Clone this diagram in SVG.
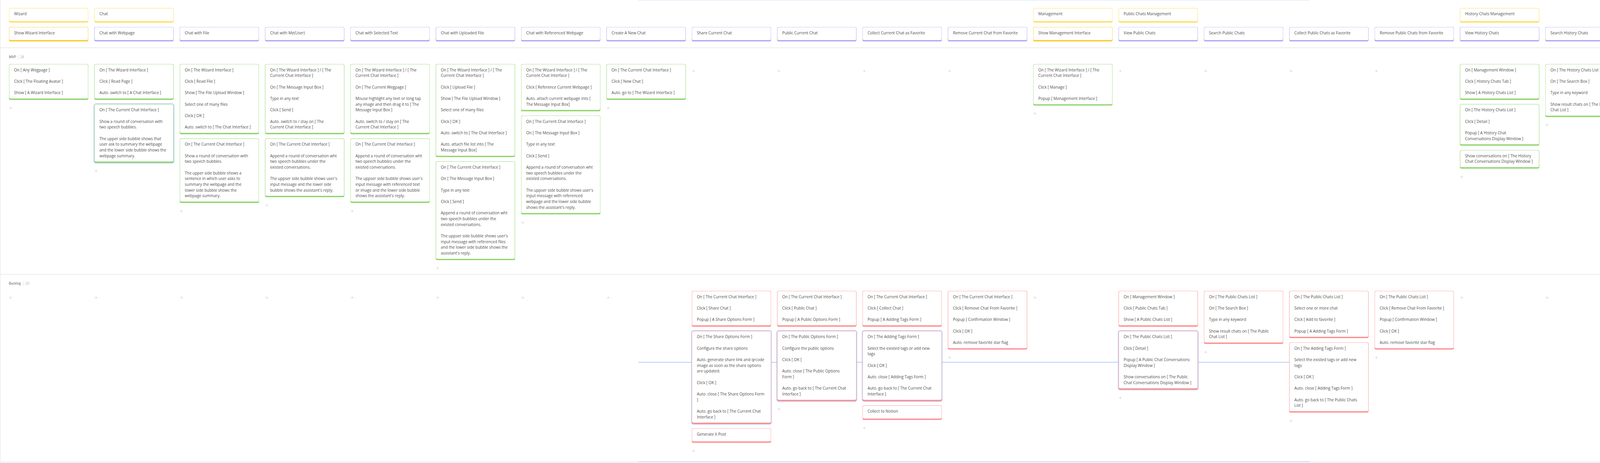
<svg xmlns="http://www.w3.org/2000/svg" xmlns:xlink="http://www.w3.org/1999/xlink" width="6079" height="1186" viewBox="0 0 6079 1186">
<style>
text{font-family:"Open Sans","Noto Sans","Liberation Sans",sans-serif;font-size:10px;fill:#4f4f4f}
.bf{fill:#fff;stroke-width:1}
.g .bb{fill:#86d160}.g .bf{stroke:#b2e59a}
.b .bb{fill:#ab9ff6}.b .bf{stroke:#cfc7fc}
.y .bb{fill:#ffdc55}.y .bf{stroke:#ffe88f}
.ys .bb{fill:#ffc320}.ys .bf{stroke:#ffd860}
.r .bb{fill:#ff8585}.r .bf{stroke:#ffb2b2}
.ol{fill:none;stroke:#8fb3f3;stroke-width:1}
.lbl{font-size:8.6px;fill:#5a5a5a}
.cnt{font-size:8.6px;fill:#b0b0b0}
.pl{stroke:#cfcfcf;stroke-width:1;fill:none}
</style>
<defs>
<path id="plus" class="pl" d="M-3.5 0H3.5M0 -3.5V3.5"/>
</defs>
<rect width="6079" height="1186" fill="#fff"/>
<g id="lanes">
<rect x="0" y="0" width="2" height="1186" fill="#f1f1f1"/>
<rect x="2" y="121" width="6077" height="2.5" fill="#efefef"/>
<rect x="2" y="701.5" width="6077" height="2.5" fill="#efefef"/>
<rect x="0" y="1182" width="6079" height="4" fill="#eef1f6"/>
<line x1="1634" y1="0.5" x2="3352" y2="0.5" stroke="#d3e1f8" stroke-width="1"/>
<line x1="1634" y1="928" x2="3352" y2="928" stroke="#6f9ff0" stroke-width="1"/>
<line x1="1634" y1="1182" x2="3352" y2="1182" stroke="#a9c6f5" stroke-width="1"/>
<text class="lbl" x="23" y="148.5">MVP</text>
<line x1="47" y1="140" x2="47" y2="152" stroke="#dddddd"/>
<text class="cnt" x="51.5" y="148.5">28</text>
<text class="lbl" x="22.5" y="729.2">Backlog</text>
<line x1="60.7" y1="720" x2="60.7" y2="732" stroke="#dddddd"/>
<text class="cnt" x="65" y="729.2">20</text>
</g>

<g id="activities">
<g id="a-wizard" class="y" transform="translate(23,20.7)"><rect class="bb" width="203" height="37" rx="4"/><rect class="bf" x="0.5" y="0.5" width="202" height="33.5" rx="3.5"/><text x="13" y="18.7">Wizard</text></g>
<g id="a-chat" class="y" transform="translate(241.5,20.7)"><rect class="bb" width="203" height="37" rx="4"/><rect class="bf" x="0.5" y="0.5" width="202" height="33.5" rx="3.5"/><text x="13" y="18.7">Chat</text></g>
<g id="a-management" class="y" transform="translate(2645,20.7)"><rect class="bb" width="203" height="37" rx="4"/><rect class="bf" x="0.5" y="0.5" width="202" height="33.5" rx="3.5"/><text x="13" y="18.7">Management</text></g>
<g id="a-public" class="y" transform="translate(2863.5,20.7)"><rect class="bb" width="203" height="37" rx="4"/><rect class="bf" x="0.5" y="0.5" width="202" height="33.5" rx="3.5"/><text x="13" y="18.7">Public Chats Management</text></g>
<g id="a-history" class="y" transform="translate(3737.5,20.7)"><rect class="bb" width="203" height="37" rx="4"/><rect class="bf" x="0.5" y="0.5" width="202" height="33.5" rx="3.5"/><text x="13" y="18.7">History Chats Management</text></g>
<g id="a-collected" class="y" transform="translate(5048.5,20.7)"><rect class="bb" width="203" height="37" rx="4"/><rect class="bf" x="0.5" y="0.5" width="202" height="33.5" rx="3.5"/><text x="13" y="18.7">Collected Chats Management</text></g>
<g id="a-config" class="y" transform="translate(5704,20.7)"><rect class="bb" width="203" height="37" rx="4"/><rect class="bf" x="0.5" y="0.5" width="202" height="33.5" rx="3.5"/><text x="13" y="18.7">Configuration</text></g>
</g>

<g id="tasks">
<g id="t0" class="ys" transform="translate(23,69)"><rect class="bb" width="203" height="37" rx="4"/><rect class="bf" x="0.5" y="0.5" width="202" height="33.5" rx="3.5"/><text x="13" y="18.7">Show Wizard Interface</text></g>
<g id="t1" class="b" transform="translate(241.5,69)"><rect class="bb" width="203" height="37" rx="4"/><rect class="bf" x="0.5" y="0.5" width="202" height="33.5" rx="3.5"/><text x="13" y="18.7">Chat with Webpage</text></g>
<g id="t2" class="b" transform="translate(460,69)"><rect class="bb" width="203" height="37" rx="4"/><rect class="bf" x="0.5" y="0.5" width="202" height="33.5" rx="3.5"/><text x="13" y="18.7">Chat with File</text></g>
<g id="t3" class="b" transform="translate(678.5,69)"><rect class="bb" width="203" height="37" rx="4"/><rect class="bf" x="0.5" y="0.5" width="202" height="33.5" rx="3.5"/><text x="13" y="18.7">Chat with Me(User)</text></g>
<g id="t4" class="b" transform="translate(897,69)"><rect class="bb" width="203" height="37" rx="4"/><rect class="bf" x="0.5" y="0.5" width="202" height="33.5" rx="3.5"/><text x="13" y="18.7">Chat with Selected Text</text></g>
<g id="t5" class="b" transform="translate(1115.5,69)"><rect class="bb" width="203" height="37" rx="4"/><rect class="bf" x="0.5" y="0.5" width="202" height="33.5" rx="3.5"/><text x="13" y="18.7">Chat with Uploaded File</text></g>
<g id="t6" class="b" transform="translate(1334,69)"><rect class="bb" width="203" height="37" rx="4"/><rect class="bf" x="0.5" y="0.5" width="202" height="33.5" rx="3.5"/><text x="13" y="18.7">Chat with Referenced Webpage</text></g>
<g id="t7" class="b" transform="translate(1552.5,69)"><rect class="bb" width="203" height="37" rx="4"/><rect class="bf" x="0.5" y="0.5" width="202" height="33.5" rx="3.5"/><text x="13" y="18.7">Create A New Chat</text></g>
<g id="t8" class="b" transform="translate(1771,69)"><rect class="bb" width="203" height="37" rx="4"/><rect class="bf" x="0.5" y="0.5" width="202" height="33.5" rx="3.5"/><text x="13" y="18.7">Share Current Chat</text></g>
<g id="t9" class="b" transform="translate(1989.5,69)"><rect class="bb" width="203" height="37" rx="4"/><rect class="bf" x="0.5" y="0.5" width="202" height="33.5" rx="3.5"/><text x="13" y="18.7">Public Current Chat</text></g>
<g id="t10" class="b" transform="translate(2208,69)"><rect class="bb" width="203" height="37" rx="4"/><rect class="bf" x="0.5" y="0.5" width="202" height="33.5" rx="3.5"/><text x="13" y="18.7">Collect Current Chat as Favorite</text></g>
<g id="t11" class="b" transform="translate(2426.5,69)"><rect class="bb" width="203" height="37" rx="4"/><rect class="bf" x="0.5" y="0.5" width="202" height="33.5" rx="3.5"/><text x="13" y="18.7">Remove Current Chat from Favorite</text></g>
<g id="t12" class="ys" transform="translate(2645,69)"><rect class="bb" width="203" height="37" rx="4"/><rect class="bf" x="0.5" y="0.5" width="202" height="33.5" rx="3.5"/><text x="13" y="18.7">Show Management Interface</text></g>
<g id="t13" class="b" transform="translate(2863.5,69)"><rect class="bb" width="203" height="37" rx="4"/><rect class="bf" x="0.5" y="0.5" width="202" height="33.5" rx="3.5"/><text x="13" y="18.7">View Public Chats</text></g>
<g id="t14" class="b" transform="translate(3082,69)"><rect class="bb" width="203" height="37" rx="4"/><rect class="bf" x="0.5" y="0.5" width="202" height="33.5" rx="3.5"/><text x="13" y="18.7">Search Public Chats</text></g>
<g id="t15" class="b" transform="translate(3300.5,69)"><rect class="bb" width="203" height="37" rx="4"/><rect class="bf" x="0.5" y="0.5" width="202" height="33.5" rx="3.5"/><text x="13" y="18.7">Collect Public Chats as Favorite</text></g>
<g id="t16" class="b" transform="translate(3519,69)"><rect class="bb" width="203" height="37" rx="4"/><rect class="bf" x="0.5" y="0.5" width="202" height="33.5" rx="3.5"/><text x="13" y="18.7">Remove Public Chats from Favorite</text></g>
<g id="t17" class="b" transform="translate(3737.5,69)"><rect class="bb" width="203" height="37" rx="4"/><rect class="bf" x="0.5" y="0.5" width="202" height="33.5" rx="3.5"/><text x="13" y="18.7">View History Chats</text></g>
<g id="t18" class="b" transform="translate(3956,69)"><rect class="bb" width="203" height="37" rx="4"/><rect class="bf" x="0.5" y="0.5" width="202" height="33.5" rx="3.5"/><text x="13" y="18.7">Search History Chats</text></g>
<g id="t19" class="b" transform="translate(4174.5,69)"><rect class="bb" width="203" height="37" rx="4"/><rect class="bf" x="0.5" y="0.5" width="202" height="33.5" rx="3.5"/><text x="13" y="18.7">Remove History Chats</text></g>
<g id="t20" class="b" transform="translate(4393,69)"><rect class="bb" width="203" height="37" rx="4"/><rect class="bf" x="0.5" y="0.5" width="202" height="33.5" rx="3.5"/><text x="13" y="18.7">Collect History Chat as Favorite</text></g>
<g id="t21" class="b" transform="translate(4611.5,69)"><rect class="bb" width="203" height="37" rx="4"/><rect class="bf" x="0.5" y="0.5" width="202" height="33.5" rx="3.5"/><text x="13" y="18.7">Remove History Chat from Favorite</text></g>
<g id="t22" class="b" transform="translate(4830,69)"><rect class="bb" width="203" height="37" rx="4"/><rect class="bf" x="0.5" y="0.5" width="202" height="33.5" rx="3.5"/><text x="13" y="18.7">Continue Chat from History Chat</text></g>
<g id="t23" class="b" transform="translate(5048.5,69)"><rect class="bb" width="203" height="37" rx="4"/><rect class="bf" x="0.5" y="0.5" width="202" height="33.5" rx="3.5"/><text x="13" y="18.7">View Collected Chats</text></g>
<g id="t24" class="b" transform="translate(5267,69)"><rect class="bb" width="203" height="37" rx="4"/><rect class="bf" x="0.5" y="0.5" width="202" height="33.5" rx="3.5"/><text x="13" y="18.7">Search Collected Chats</text></g>
<g id="t25" class="b" transform="translate(5485.5,69)"><rect class="bb" width="203" height="37" rx="4"/><rect class="bf" x="0.5" y="0.5" width="202" height="33.5" rx="3.5"/><text x="13" y="18.7">Remove Collected Chats</text></g>
<g id="t26" class="b" transform="translate(5704,69)"><rect class="bb" width="203" height="37" rx="4"/><rect class="bf" x="0.5" y="0.5" width="202" height="33.5" rx="3.5"/><text x="13" y="18.7">View Configuration</text></g>
<g id="t27" class="b" transform="translate(5922.5,69)"><rect class="bb" width="203" height="37" rx="4"/><rect class="bf" x="0.5" y="0.5" width="202" height="33.5" rx="3.5"/><text x="13" y="18.7">Edit Configuration</text></g>
</g>

<g id="mvp">
<g id="m0a" class="g" transform="translate(23,164)"><rect class="bb" width="203" height="91.7" rx="4"/><rect class="bf" x="0.5" y="0.5" width="202" height="88.2" rx="3.5"/><text><tspan x="13" y="18.7">On [ Any Wegpage ]</tspan><tspan x="13" y="48">Click [ The Floating Avatar ]</tspan><tspan x="13" y="77.4">Show [ A Wizard Interface ]</tspan></text></g>
<g id="m1a" class="g" transform="translate(241.5,164)"><rect class="bb" width="203" height="91.7" rx="4"/><rect class="bf" x="0.5" y="0.5" width="202" height="88.2" rx="3.5"/><text><tspan x="13" y="18.7">On [ The Wizard Interface ]</tspan><tspan x="13" y="48">Click [ Read Page ]</tspan><tspan x="13" y="77.4">Auto. switch to [ A Chat Interface ]</tspan></text></g>
<g id="m1b" class="g" transform="translate(241.5,266.7)"><rect class="bb" width="203" height="150.3" rx="4"/><rect class="bf" x="0.5" y="0.5" width="202" height="146.8" rx="3.5"/><rect class="ol" x="-1" y="-1" width="205" height="152.3" rx="4.5"/><text><tspan x="13" y="18.7">On [ The Current Chat Interface ]</tspan><tspan x="13" y="48">Show a round of conversation with</tspan><tspan x="13" y="62.7">two speech bubbles.</tspan><tspan x="13" y="92.1">The upper side bubble shows that</tspan><tspan x="13" y="106.7">user ask to summary the webpage</tspan><tspan x="13" y="121.4">and the lower side bubble shows the</tspan><tspan x="13" y="136.1">webpage summary.</tspan></text></g>
<g id="m2a" class="g" transform="translate(460,164)"><rect class="bb" width="203" height="179.7" rx="4"/><rect class="bf" x="0.5" y="0.5" width="202" height="176.2" rx="3.5"/><text><tspan x="13" y="18.7">On [ The Wizard Interface ]</tspan><tspan x="13" y="48">Click [ Read File ]</tspan><tspan x="13" y="77.4">Show [ The File Upload Window ]</tspan><tspan x="13" y="106.7">Select one of many files</tspan><tspan x="13" y="136.1">Click [ OK ]</tspan><tspan x="13" y="165.4">Auto. switch to [ The Chat Interface ]</tspan></text></g>
<g id="m2b" class="g" transform="translate(460,354.7)"><rect class="bb" width="203" height="165" rx="4"/><rect class="bf" x="0.5" y="0.5" width="202" height="161.5" rx="3.5"/><text><tspan x="13" y="18.7">On [ The Current Chat Interface ]</tspan><tspan x="13" y="48">Show a round of conversation with</tspan><tspan x="13" y="62.7">two speech bubbles.</tspan><tspan x="13" y="92.1">The upper side bubble shows a</tspan><tspan x="13" y="106.7">sentence in which user asks to</tspan><tspan x="13" y="121.4">summary the webpage and the</tspan><tspan x="13" y="136.1">lower side bubble shows the</tspan><tspan x="13" y="150.7">webpage summary.</tspan></text></g>
<g id="m3a" class="g" transform="translate(678.5,164)"><rect class="bb" width="203" height="179.7" rx="4"/><rect class="bf" x="0.5" y="0.5" width="202" height="176.2" rx="3.5"/><text><tspan x="13" y="18.7">On [ The Wizard Interface ] / [ The</tspan><tspan x="13" y="33.4">Current Chat Interface ]</tspan><tspan x="13" y="62.7">On [ The Message Input Box ]</tspan><tspan x="13" y="92.1">Type in any text</tspan><tspan x="13" y="121.4">Click [ Send ]</tspan><tspan x="13" y="150.7">Auto. switch to / stay on [ The</tspan><tspan x="13" y="165.4">Current Chat Interface ]</tspan></text></g>
<g id="m3b" class="g" transform="translate(678.5,354.7)"><rect class="bb" width="203" height="150.3" rx="4"/><rect class="bf" x="0.5" y="0.5" width="202" height="146.8" rx="3.5"/><text><tspan x="13" y="18.7">On [ The Current Chat Interface ]</tspan><tspan x="13" y="48">Append a round of conversation wht</tspan><tspan x="13" y="62.7">two speech bubbles under the</tspan><tspan x="13" y="77.4">existed conversations.</tspan><tspan x="13" y="106.7">The uppser side bubble shows user's</tspan><tspan x="13" y="121.4">input message and the lower side</tspan><tspan x="13" y="136.1">bubble shows the assistant's reply.</tspan></text></g>
<g id="m4a" class="g" transform="translate(897,164)"><rect class="bb" width="203" height="179.7" rx="4"/><rect class="bf" x="0.5" y="0.5" width="202" height="176.2" rx="3.5"/><text><tspan x="13" y="18.7">On [ The Wizard Interface ] / [ The</tspan><tspan x="13" y="33.4">Current Chat Interface ]</tspan><tspan x="13" y="62.7">On [ The Current Wegpage ]</tspan><tspan x="13" y="92.1">Mouse highlight any text or long tap</tspan><tspan x="13" y="106.7">any image and then drag it to [ The</tspan><tspan x="13" y="121.4">Message Input Box ]</tspan><tspan x="13" y="150.7">Auto. switch to / stay on [ The</tspan><tspan x="13" y="165.4">Current Chat Interface ]</tspan></text></g>
<g id="m4b" class="g" transform="translate(897,354.7)"><rect class="bb" width="203" height="165" rx="4"/><rect class="bf" x="0.5" y="0.5" width="202" height="161.5" rx="3.5"/><text><tspan x="13" y="18.7">On [ The Current Chat Interface ]</tspan><tspan x="13" y="48">Append a round of conversation wht</tspan><tspan x="13" y="62.7">two speech bubbles under the</tspan><tspan x="13" y="77.4">existed conversations.</tspan><tspan x="13" y="106.7">The uppser side bubble shows user's</tspan><tspan x="13" y="121.4">input message with referenced text</tspan><tspan x="13" y="136.1">or image and the lower side bubble</tspan><tspan x="13" y="150.7">shows the assistant's reply.</tspan></text></g>
<g id="m5a" class="g" transform="translate(1115.5,164)"><rect class="bb" width="203" height="238.3" rx="4"/><rect class="bf" x="0.5" y="0.5" width="202" height="234.8" rx="3.5"/><text><tspan x="13" y="18.7">On [ The Wizard Interface ] / [ The</tspan><tspan x="13" y="33.4">Current Chat Interface ]</tspan><tspan x="13" y="62.7">Click [ Upload File ]</tspan><tspan x="13" y="92.1">Show [ The File Upload Window ]</tspan><tspan x="13" y="121.4">Select one of many files</tspan><tspan x="13" y="150.7">Click [ OK ]</tspan><tspan x="13" y="180.1">Auto. switch to [ The Chat Interface ]</tspan><tspan x="13" y="209.4">Auto. attach file list into [ The</tspan><tspan x="13" y="224.1">Message Input Box]</tspan></text></g>
<g id="m5b" class="g" transform="translate(1115.5,413.3)"><rect class="bb" width="203" height="253" rx="4"/><rect class="bf" x="0.5" y="0.5" width="202" height="249.5" rx="3.5"/><text><tspan x="13" y="18.7">On [ The Current Chat Interface ]</tspan><tspan x="13" y="48">On [ The Message Input Box ]</tspan><tspan x="13" y="77.4">Type in any text</tspan><tspan x="13" y="106.7">Click [ Send ]</tspan><tspan x="13" y="136.1">Append a round of conversation wht</tspan><tspan x="13" y="150.7">two speech bubbles under the</tspan><tspan x="13" y="165.4">existed conversations.</tspan><tspan x="13" y="194.7">The uppser side bubble shows user's</tspan><tspan x="13" y="209.4">input message with referenced files</tspan><tspan x="13" y="224.1">and the lower side bubble shows the</tspan><tspan x="13" y="238.7">assistant's reply.</tspan></text></g>
<g id="m6a" class="g" transform="translate(1334,164)"><rect class="bb" width="203" height="121" rx="4"/><rect class="bf" x="0.5" y="0.5" width="202" height="117.5" rx="3.5"/><text><tspan x="13" y="18.7">On [ The Wizard Interface ] / [ The</tspan><tspan x="13" y="33.4">Current Chat Interface ]</tspan><tspan x="13" y="62.7">Click [ Reference Current Webpage ]</tspan><tspan x="13" y="92.1">Auto. attach current webpage into [</tspan><tspan x="13" y="106.7">The Message Input Box]</tspan></text></g>
<g id="m6b" class="g" transform="translate(1334,296)"><rect class="bb" width="203" height="253" rx="4"/><rect class="bf" x="0.5" y="0.5" width="202" height="249.5" rx="3.5"/><text><tspan x="13" y="18.7">On [ The Current Chat Interface ]</tspan><tspan x="13" y="48">On [ The Message Input Box ]</tspan><tspan x="13" y="77.4">Type in any text</tspan><tspan x="13" y="106.7">Click [ Send ]</tspan><tspan x="13" y="136.1">Append a round of conversation wht</tspan><tspan x="13" y="150.7">two speech bubbles under the</tspan><tspan x="13" y="165.4">existed conversations.</tspan><tspan x="13" y="194.7">The uppser side bubble shows user's</tspan><tspan x="13" y="209.4">input message with referenced</tspan><tspan x="13" y="224.1">webpage and the lower side bubble</tspan><tspan x="13" y="238.7">shows the assistant's reply.</tspan></text></g>
<g id="m7a" class="g" transform="translate(1552.5,164)"><rect class="bb" width="203" height="91.7" rx="4"/><rect class="bf" x="0.5" y="0.5" width="202" height="88.2" rx="3.5"/><text><tspan x="13" y="18.7">On [ The Current Chat Interface ]</tspan><tspan x="13" y="48">Click [ New Chat ]</tspan><tspan x="13" y="77.4">Auto. go to [ The Wizard Interface ]</tspan></text></g>
<g id="m12a" class="g" transform="translate(2645,164)"><rect class="bb" width="203" height="106.3" rx="4"/><rect class="bf" x="0.5" y="0.5" width="202" height="102.8" rx="3.5"/><text><tspan x="13" y="18.7">On [ The Wizard Interface ] / [ The</tspan><tspan x="13" y="33.4">Current Chat Interface ]</tspan><tspan x="13" y="62.7">Click [ Manage ]</tspan><tspan x="13" y="92.1">Popup [ Management Interface ]</tspan></text></g>
<g id="m17a" class="g" transform="translate(3737.5,164)"><rect class="bb" width="203" height="91.7" rx="4"/><rect class="bf" x="0.5" y="0.5" width="202" height="88.2" rx="3.5"/><text><tspan x="13" y="18.7">On [ Management Window ]</tspan><tspan x="13" y="48">Click [ History Chats Tab ]</tspan><tspan x="13" y="77.4">Show [ A History Chats List ]</tspan></text></g>
<g id="m17b" class="g" transform="translate(3737.5,266.7)"><rect class="bb" width="203" height="106.3" rx="4"/><rect class="bf" x="0.5" y="0.5" width="202" height="102.8" rx="3.5"/><text><tspan x="13" y="18.7">On [ The History Chats List ]</tspan><tspan x="13" y="48">Click [ Detail ]</tspan><tspan x="13" y="77.4">Popup [ A History Chat</tspan><tspan x="13" y="92.1">Conversations Display Window ]</tspan></text></g>
<g id="m17c" class="g" transform="translate(3737.5,384)"><rect class="bb" width="203" height="47.7" rx="4"/><rect class="bf" x="0.5" y="0.5" width="202" height="44.2" rx="3.5"/><text><tspan x="13" y="18.7">Show conversations on [ The History</tspan><tspan x="13" y="33.4">Chat Conversations Display Window ]</tspan></text></g>
<g id="m18a" class="g" transform="translate(3956,164)"><rect class="bb" width="203" height="135.7" rx="4"/><rect class="bf" x="0.5" y="0.5" width="202" height="132.2" rx="3.5"/><text><tspan x="13" y="18.7">On [ The History Chats List ]</tspan><tspan x="13" y="48">On [ The Search Box ]</tspan><tspan x="13" y="77.4">Type in any keyword</tspan><tspan x="13" y="106.7">Show result chats on [ The History</tspan><tspan x="13" y="121.4">Chat List ]</tspan></text></g>
<g id="m19a" class="g" transform="translate(4174.5,164)"><rect class="bb" width="203" height="150.3" rx="4"/><rect class="bf" x="0.5" y="0.5" width="202" height="146.8" rx="3.5"/><text><tspan x="13" y="18.7">On [ The History Chats List ]</tspan><tspan x="13" y="48">Click [ Remove Chat From Favorite ]</tspan><tspan x="13" y="77.4">Popup [ Confirmation Window ]</tspan><tspan x="13" y="106.7">Click [ OK ]</tspan><tspan x="13" y="136.1">Auto. remove favorite star flag</tspan></text></g>
<g id="m20a" class="g" transform="translate(4393,164)"><rect class="bb" width="203" height="121" rx="4"/><rect class="bf" x="0.5" y="0.5" width="202" height="117.5" rx="3.5"/><text><tspan x="13" y="18.7">On [ The History Chats List ]</tspan><tspan x="13" y="48">Select one or more chat</tspan><tspan x="13" y="77.4">Click [ Add to favorite ]</tspan><tspan x="13" y="106.7">Popup [ A Adding Tags Form ]</tspan></text></g>
<g id="m20b" class="g" transform="translate(4393,296)"><rect class="bb" width="203" height="179.7" rx="4"/><rect class="bf" x="0.5" y="0.5" width="202" height="176.2" rx="3.5"/><text><tspan x="13" y="18.7">On [ The Adding Tags Form ]</tspan><tspan x="13" y="48">Select the existed tags or add new</tspan><tspan x="13" y="62.7">tags</tspan><tspan x="13" y="92.1">Click [ OK ]</tspan><tspan x="13" y="121.4">Auto. close [ Adding Tags Form ]</tspan><tspan x="13" y="150.7">Auto. go back to [ The History Chats</tspan><tspan x="13" y="165.4">List ]</tspan></text></g>
<g id="m21a" class="g" transform="translate(4611.5,164)"><rect class="bb" width="203" height="150.3" rx="4"/><rect class="bf" x="0.5" y="0.5" width="202" height="146.8" rx="3.5"/><text><tspan x="13" y="18.7">On [ The History Chats List ]</tspan><tspan x="13" y="48">Click [ Remove Chat From Favorite ]</tspan><tspan x="13" y="77.4">Popup [ Confirmation Window ]</tspan><tspan x="13" y="106.7">Click [ OK ]</tspan><tspan x="13" y="136.1">Auto. remove favorite star flag</tspan></text></g>
<g id="m22a" class="g" transform="translate(4830,164)"><rect class="bb" width="203" height="135.7" rx="4"/><rect class="bf" x="0.5" y="0.5" width="202" height="132.2" rx="3.5"/><text><tspan x="13" y="18.7">On [ The History Chats List ]</tspan><tspan x="13" y="48">Select a history chat</tspan><tspan x="13" y="77.4">Click [ Continue Chat ]</tspan><tspan x="13" y="106.7">Auto. go to [ The Current Chat</tspan><tspan x="13" y="121.4">Interface ]</tspan></text></g>
<g id="m22b" class="g" transform="translate(4830,310.7)"><rect class="bb" width="203" height="62.3" rx="4"/><rect class="bf" x="0.5" y="0.5" width="202" height="58.8" rx="3.5"/><text><tspan x="13" y="18.7">Show the conversation that to be</tspan><tspan x="13" y="33.4">continued on [ The Current Chat</tspan><tspan x="13" y="48">Interface ]</tspan></text></g>
<g id="m22c" class="g" transform="translate(4830,384)"><rect class="bb" width="203" height="238.3" rx="4"/><rect class="bf" x="0.5" y="0.5" width="202" height="234.8" rx="3.5"/><text><tspan x="13" y="18.7">On [ The Current Chat Interface ]</tspan><tspan x="13" y="48">On [ The Message Input Box ]</tspan><tspan x="13" y="77.4">Type in message</tspan><tspan x="13" y="106.7">Click [ Send ]</tspan><tspan x="13" y="136.1">Append a round of conversation wht</tspan><tspan x="13" y="150.7">two speech bubbles under the</tspan><tspan x="13" y="165.4">existed conversations.</tspan><tspan x="13" y="194.7">The uppser side bubble shows user's</tspan><tspan x="13" y="209.4">input message and the lower side</tspan><tspan x="13" y="224.1">bubble shows the assistant's reply.</tspan></text></g>
<g id="m26a" class="g" transform="translate(5704,164)"><rect class="bb" width="203" height="91.7" rx="4"/><rect class="bf" x="0.5" y="0.5" width="202" height="88.2" rx="3.5"/><text><tspan x="13" y="18.7">On [ Management Window ]</tspan><tspan x="13" y="48">Click [ Configuration Tab ]</tspan><tspan x="13" y="77.4">Show [ A Configuration Form ]</tspan></text></g>
<g id="m27a" class="g" transform="translate(5922.5,164)"><rect class="bb" width="203" height="121" rx="4"/><rect class="bf" x="0.5" y="0.5" width="202" height="117.5" rx="3.5"/><text><tspan x="13" y="18.7">On [ A Configuration Form ]</tspan><tspan x="13" y="48">Edit the configuration</tspan><tspan x="13" y="77.4">Click [ Apply ]</tspan><tspan x="13" y="106.7">Auto. apply the latest configuration</tspan></text></g>
</g>

<g id="backlog">
<g id="b8a" class="r" transform="translate(1771,745)"><rect class="bb" width="203" height="91.7" rx="4"/><rect class="bf" x="0.5" y="0.5" width="202" height="88.2" rx="3.5"/><text><tspan x="13" y="18.7">On [ The Current Chat Interface ]</tspan><tspan x="13" y="48">Click [ Share Chat ]</tspan><tspan x="13" y="77.4">Popup [ A Share Options Form ]</tspan></text></g>
<g id="b8b" class="r" transform="translate(1771,847.7)"><rect class="bb" width="203" height="238.3" rx="4"/><rect class="bf" x="0.5" y="0.5" width="202" height="234.8" rx="3.5"/><rect class="ol" x="-1" y="-1" width="205" height="240.3" rx="4.5"/><text><tspan x="13" y="18.7">On [ The Share Options Form ]</tspan><tspan x="13" y="48">Configure the share options</tspan><tspan x="13" y="77.4">Auto. generate share link and qrcode</tspan><tspan x="13" y="92.1">image as soon as the share options</tspan><tspan x="13" y="106.7">are updated.</tspan><tspan x="13" y="136.1">Click [ OK ]</tspan><tspan x="13" y="165.4">Auto. close [ The Share Options Form</tspan><tspan x="13" y="180.1">]</tspan><tspan x="13" y="209.4">Auto. go back to [ The Current Chat</tspan><tspan x="13" y="224.1">Interface ]</tspan></text></g>
<g id="b8c" class="r" transform="translate(1771,1097)"><rect class="bb" width="203" height="37" rx="4"/><rect class="bf" x="0.5" y="0.5" width="202" height="33.5" rx="3.5"/><text x="13" y="18.7">Generate X Post</text></g>
<g id="b9a" class="r" transform="translate(1989.5,745)"><rect class="bb" width="203" height="91.7" rx="4"/><rect class="bf" x="0.5" y="0.5" width="202" height="88.2" rx="3.5"/><text><tspan x="13" y="18.7">On [ The Current Chat Interface ]</tspan><tspan x="13" y="48">Click [ Public Chat ]</tspan><tspan x="13" y="77.4">Popup [ A Public Options Form ]</tspan></text></g>
<g id="b9b" class="r" transform="translate(1989.5,847.7)"><rect class="bb" width="203" height="179.7" rx="4"/><rect class="bf" x="0.5" y="0.5" width="202" height="176.2" rx="3.5"/><rect class="ol" x="-1" y="-1" width="205" height="181.7" rx="4.5"/><text><tspan x="13" y="18.7">On [ The Public Options Form ]</tspan><tspan x="13" y="48">Configure the public options</tspan><tspan x="13" y="77.4">Click [ OK ]</tspan><tspan x="13" y="106.7">Auto. close [ The Public Options</tspan><tspan x="13" y="121.4">Form ]</tspan><tspan x="13" y="150.7">Auto. go back to [ The Current Chat</tspan><tspan x="13" y="165.4">Interface ]</tspan></text></g>
<g id="b10a" class="r" transform="translate(2208,745)"><rect class="bb" width="203" height="91.7" rx="4"/><rect class="bf" x="0.5" y="0.5" width="202" height="88.2" rx="3.5"/><text><tspan x="13" y="18.7">On [ The Current Chat Interface ]</tspan><tspan x="13" y="48">Click [ Collect Chat ]</tspan><tspan x="13" y="77.4">Popup [ A Adding Tags Form ]</tspan></text></g>
<g id="b10b" class="r" transform="translate(2208,847.7)"><rect class="bb" width="203" height="179.7" rx="4"/><rect class="bf" x="0.5" y="0.5" width="202" height="176.2" rx="3.5"/><rect class="ol" x="-1" y="-1" width="205" height="181.7" rx="4.5"/><text><tspan x="13" y="18.7">On [ The Adding Tags Form ]</tspan><tspan x="13" y="48">Select the existed tags or add new</tspan><tspan x="13" y="62.7">tags</tspan><tspan x="13" y="92.1">Click [ OK ]</tspan><tspan x="13" y="121.4">Auto. close [ Adding Tags Form ]</tspan><tspan x="13" y="150.7">Auto. go back to [ The Current Chat</tspan><tspan x="13" y="165.4">Interface ]</tspan></text></g>
<g id="b10c" class="r" transform="translate(2208,1038.4)"><rect class="bb" width="203" height="37" rx="4"/><rect class="bf" x="0.5" y="0.5" width="202" height="33.5" rx="3.5"/><text x="13" y="18.7">Collect to Notion</text></g>
<g id="b11a" class="r" transform="translate(2426.5,745)"><rect class="bb" width="203" height="150.3" rx="4"/><rect class="bf" x="0.5" y="0.5" width="202" height="146.8" rx="3.5"/><text><tspan x="13" y="18.7">On [ The Current Chat Interface ]</tspan><tspan x="13" y="48">Click [ Remove Chat From Favorite ]</tspan><tspan x="13" y="77.4">Popup [ Confirmation Window ]</tspan><tspan x="13" y="106.7">Click [ OK ]</tspan><tspan x="13" y="136.1">Auto. remove favorite star flag</tspan></text></g>
<g id="b13a" class="r" transform="translate(2863.5,745)"><rect class="bb" width="203" height="91.7" rx="4"/><rect class="bf" x="0.5" y="0.5" width="202" height="88.2" rx="3.5"/><text><tspan x="13" y="18.7">On [ Management Window ]</tspan><tspan x="13" y="48">Click [ Public Chats Tab ]</tspan><tspan x="13" y="77.4">Show [ A Public Chats List ]</tspan></text></g>
<g id="b13b" class="r" transform="translate(2863.5,847.7)"><rect class="bb" width="203" height="150.3" rx="4"/><rect class="bf" x="0.5" y="0.5" width="202" height="146.8" rx="3.5"/><rect class="ol" x="-1" y="-1" width="205" height="152.3" rx="4.5"/><text><tspan x="13" y="18.7">On [ The Public Chats List ]</tspan><tspan x="13" y="48">Click [ Detail ]</tspan><tspan x="13" y="77.4">Popup [ A Public Chat Conversations</tspan><tspan x="13" y="92.1">Display Window ]</tspan><tspan x="13" y="121.4">Show conversations on [ The Public</tspan><tspan x="13" y="136.1">Chat Conversations Display Window ]</tspan></text></g>
<g id="b14a" class="r" transform="translate(3082,745)"><rect class="bb" width="203" height="135.7" rx="4"/><rect class="bf" x="0.5" y="0.5" width="202" height="132.2" rx="3.5"/><text><tspan x="13" y="18.7">On [ The Public Chats List ]</tspan><tspan x="13" y="48">On [ The Search Box ]</tspan><tspan x="13" y="77.4">Type in any keyword</tspan><tspan x="13" y="106.7">Show result chats on [ The Public</tspan><tspan x="13" y="121.4">Chat List ]</tspan></text></g>
<g id="b15a" class="r" transform="translate(3300.5,745)"><rect class="bb" width="203" height="121" rx="4"/><rect class="bf" x="0.5" y="0.5" width="202" height="117.5" rx="3.5"/><text><tspan x="13" y="18.7">On [ The Public Chats List ]</tspan><tspan x="13" y="48">Select one or more chat</tspan><tspan x="13" y="77.4">Click [ Add to favorite ]</tspan><tspan x="13" y="106.7">Popup [ A Adding Tags Form ]</tspan></text></g>
<g id="b15b" class="r" transform="translate(3300.5,877)"><rect class="bb" width="203" height="179.7" rx="4"/><rect class="bf" x="0.5" y="0.5" width="202" height="176.2" rx="3.5"/><text><tspan x="13" y="18.7">On [ The Adding Tags Form ]</tspan><tspan x="13" y="48">Select the existed tags or add new</tspan><tspan x="13" y="62.7">tags</tspan><tspan x="13" y="92.1">Click [ OK ]</tspan><tspan x="13" y="121.4">Auto. close [ Adding Tags Form ]</tspan><tspan x="13" y="150.7">Auto. go back to [ The Public Chats</tspan><tspan x="13" y="165.4">List ]</tspan></text></g>
<g id="b16a" class="r" transform="translate(3519,745)"><rect class="bb" width="203" height="150.3" rx="4"/><rect class="bf" x="0.5" y="0.5" width="202" height="146.8" rx="3.5"/><text><tspan x="13" y="18.7">On [ The Public Chats List ]</tspan><tspan x="13" y="48">Click [ Remove Chat From Favorite ]</tspan><tspan x="13" y="77.4">Popup [ Confirmation Window ]</tspan><tspan x="13" y="106.7">Click [ OK ]</tspan><tspan x="13" y="136.1">Auto. remove favorite star flag</tspan></text></g>
<g id="b23a" class="r" transform="translate(5048.5,745)"><rect class="bb" width="203" height="91.7" rx="4"/><rect class="bf" x="0.5" y="0.5" width="202" height="88.2" rx="3.5"/><text><tspan x="13" y="18.7">On [ Management Window ]</tspan><tspan x="13" y="48">Click [ Favorite Chats Tab ]</tspan><tspan x="13" y="77.4">Show [ A Favorite Chats List ]</tspan></text></g>
<g id="b23b" class="r" transform="translate(5048.5,847.7)"><rect class="bb" width="203" height="106.3" rx="4"/><rect class="bf" x="0.5" y="0.5" width="202" height="102.8" rx="3.5"/><text><tspan x="13" y="18.7">On [ The Favorite Chats List ]</tspan><tspan x="13" y="48">Click [ Detail ]</tspan><tspan x="13" y="77.4">Popup [ A Favorite Chat</tspan><tspan x="13" y="92.1">Conversations Display Window ]</tspan></text></g>
<g id="b23c" class="r" transform="translate(5048.5,965)"><rect class="bb" width="203" height="47.7" rx="4"/><rect class="bf" x="0.5" y="0.5" width="202" height="44.2" rx="3.5"/><text><tspan x="13" y="18.7">Show conversations on [ The Favorite</tspan><tspan x="13" y="33.4">Chat Conversations Display Window ]</tspan></text></g>
<g id="b24a" class="r" transform="translate(5267,745)"><rect class="bb" width="203" height="135.7" rx="4"/><rect class="bf" x="0.5" y="0.5" width="202" height="132.2" rx="3.5"/><text><tspan x="13" y="18.7">On [ The Favorite Chats List ]</tspan><tspan x="13" y="48">On [ The Search Box ]</tspan><tspan x="13" y="77.4">Type in any keyword</tspan><tspan x="13" y="106.7">Show result chats on [ The Favorite</tspan><tspan x="13" y="121.4">Chat List ]</tspan></text></g>
<g id="b25a" class="r" transform="translate(5485.5,745)"><rect class="bb" width="203" height="194.3" rx="4"/><rect class="bf" x="0.5" y="0.5" width="202" height="190.8" rx="3.5"/><text><tspan x="13" y="18.7">On [ The Favorite Chats List ]</tspan><tspan x="13" y="48">Select one or more chat</tspan><tspan x="13" y="77.4">Click [ Remove ]</tspan><tspan x="13" y="106.7">Popup [ Confirmation Window ]</tspan><tspan x="13" y="136.1">Click [ OK ]</tspan><tspan x="13" y="165.4">Auto. remove the selected chats on [</tspan><tspan x="13" y="180.1">The Favorite Chats List ]</tspan></text></g>
</g>

<g id="add-buttons">
<use href="#plus" x="27.5" y="277"/><use href="#plus" x="246" y="438"/><use href="#plus" x="464.5" y="541"/><use href="#plus" x="683" y="526"/><use href="#plus" x="901.5" y="541"/><use href="#plus" x="1120" y="687"/><use href="#plus" x="1338.5" y="570"/><use href="#plus" x="1557" y="277"/>
<use href="#plus" x="1775.5" y="182"/><use href="#plus" x="1994" y="182"/><use href="#plus" x="2212.5" y="182"/><use href="#plus" x="2431" y="182"/>
<use href="#plus" x="2649.5" y="291"/>
<use href="#plus" x="2868" y="182"/><use href="#plus" x="3086.5" y="182"/><use href="#plus" x="3305" y="182"/><use href="#plus" x="3523.5" y="182"/>
<use href="#plus" x="3742" y="453"/><use href="#plus" x="3960.5" y="320"/><use href="#plus" x="4179" y="335"/><use href="#plus" x="4397.5" y="497"/><use href="#plus" x="4616" y="335"/><use href="#plus" x="4834.5" y="643"/>
<use href="#plus" x="5053" y="182"/><use href="#plus" x="5271.5" y="182"/><use href="#plus" x="5490" y="182"/>
<use href="#plus" x="5708.5" y="277"/><use href="#plus" x="5927" y="306"/>
<use href="#plus" x="27.5" y="762.5"/><use href="#plus" x="246" y="762.5"/><use href="#plus" x="464.5" y="762.5"/><use href="#plus" x="683" y="762.5"/><use href="#plus" x="901.5" y="762.5"/><use href="#plus" x="1120" y="762.5"/><use href="#plus" x="1338.5" y="762.5"/><use href="#plus" x="1557" y="762.5"/>
<use href="#plus" x="1775.5" y="1155"/><use href="#plus" x="1994" y="1048"/><use href="#plus" x="2212.5" y="1096"/><use href="#plus" x="2431" y="916"/>
<use href="#plus" x="2649.5" y="762.5"/>
<use href="#plus" x="2868" y="1019"/><use href="#plus" x="3086.5" y="902"/><use href="#plus" x="3305" y="1078"/><use href="#plus" x="3523.5" y="916"/>
<use href="#plus" x="3742" y="762.5"/><use href="#plus" x="3960.5" y="762.5"/><use href="#plus" x="4179" y="762.5"/><use href="#plus" x="4397.5" y="762.5"/><use href="#plus" x="4616" y="762.5"/><use href="#plus" x="4834.5" y="762.5"/>
<use href="#plus" x="5053" y="1034"/><use href="#plus" x="5271.5" y="902"/><use href="#plus" x="5490" y="960"/>
<use href="#plus" x="5708.5" y="762.5"/><use href="#plus" x="5927" y="762.5"/>
</g>
</svg>
